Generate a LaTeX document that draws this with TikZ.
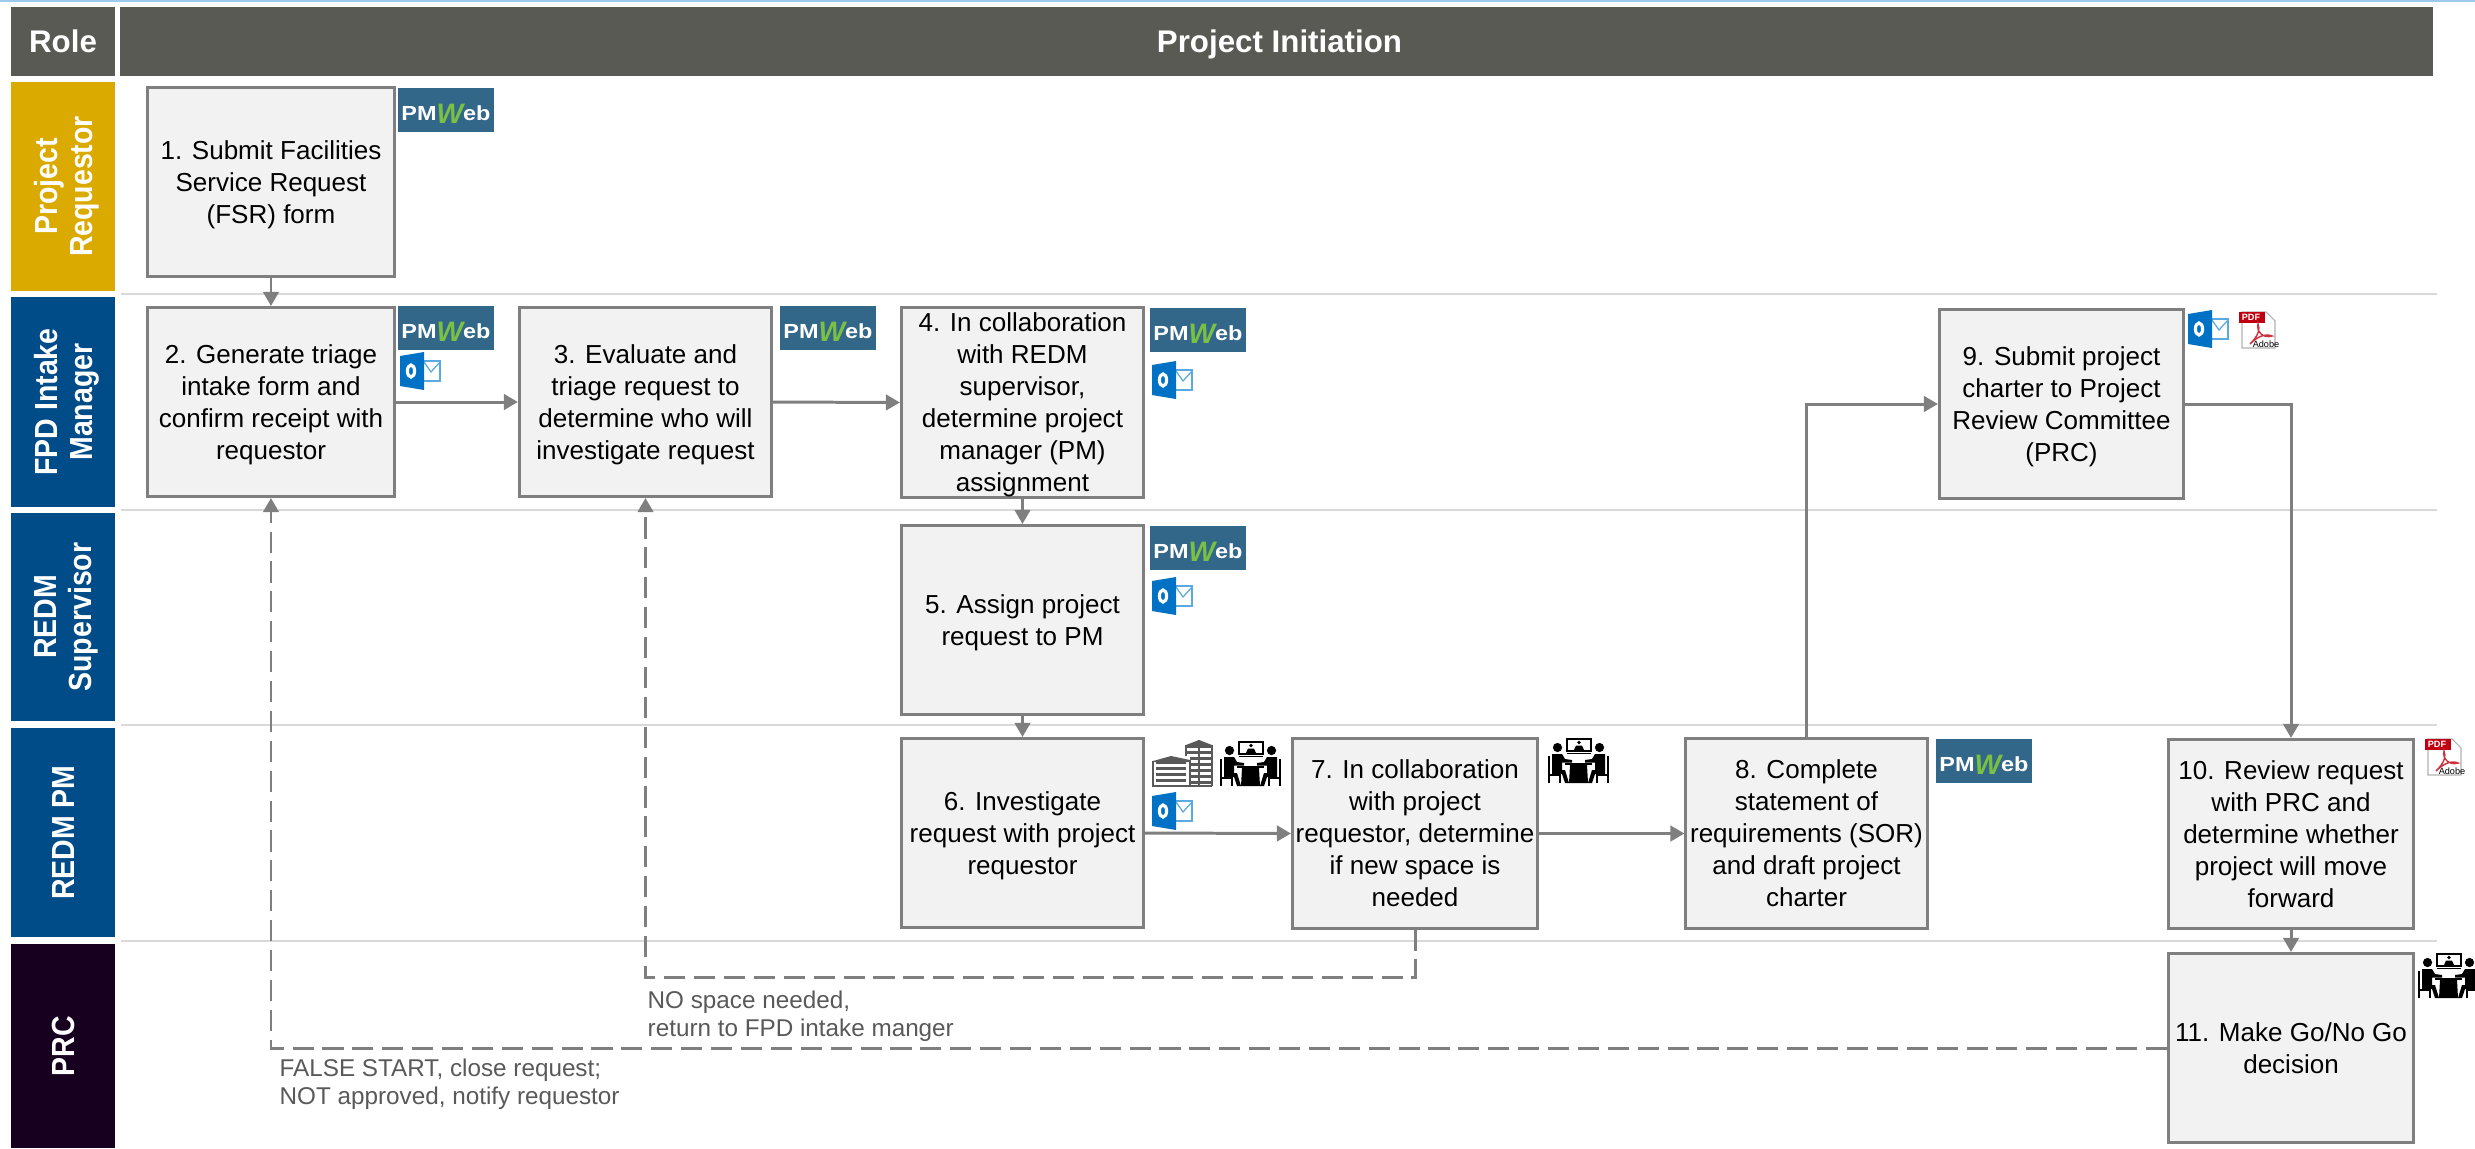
\documentclass[tikz,border=0pt]{standalone}
\usepackage{fontspec}
\setmainfont{Liberation Sans}
\newfontfamily\lanefont[FakeStretch=0.89]{Liberation Sans}
\newfontfamily\logofont[FakeStretch=1.15]{Liberation Sans}
\usepackage{xcolor}
\usepackage{tikz}
\usetikzlibrary{arrows.meta}
\definecolor{headgray}{HTML}{595A53}
\definecolor{reqgold}{HTML}{DAAA00}
\definecolor{fpdblue}{HTML}{004C88}
\definecolor{prcdark}{HTML}{17001F}
\definecolor{boxfill}{HTML}{F2F2F2}
\definecolor{boxline}{HTML}{7F7F7F}
\definecolor{sepline}{HTML}{D9D9D9}
\definecolor{notegray}{HTML}{595959}
\definecolor{pmwebbg}{HTML}{33678A}
\definecolor{pmgreen}{HTML}{7AC143}
\definecolor{olblue}{HTML}{0072C6}
\definecolor{olpale}{HTML}{5AA9E0}
\definecolor{pdfred}{HTML}{C00010}
\tikzset{
  head/.style={fill=headgray, text=white, inner sep=0pt, text depth=0pt, font=\fontsize{8.9}{10}\selectfont\bfseries, minimum height=0.69cm},
  lane/.style={rotate=90, text=white, inner sep=0pt, text depth=0pt, align=center, minimum height=1.04cm, font=\lanefont\fontsize{9.1}{10}\selectfont\bfseries},
  task/.style={draw=boxline, fill=boxfill, line width=0.85pt, inner sep=0pt, text depth=0pt, align=center, minimum width=2.46cm, minimum height=1.89cm, font=\fontsize{7.4}{9.1}\selectfont},
  flow/.style={draw=boxline, line width=0.85pt, -{Triangle[length=4pt,width=4.4pt]}},
  back/.style={flow, dash pattern=on 6pt off 2.5pt},
  note/.style={text=notegray, inner sep=0pt, align=left, anchor=west, font=\fontsize{6.9}{8}\selectfont},
  sep/.style={draw=sepline, line width=0.7pt},
  pmweb/.pic={
    \fill[pmwebbg] (0,0) rectangle (96,44);
    \node[text=white, inner sep=0pt, anchor=base, font=\logofont\fontsize{5.8}{7}\selectfont\bfseries] (-mark) at (48,32)
      {PM\raisebox{-1pt}{\color{pmgreen}\normalfont\fontsize{8}{7}\selectfont\bfseries\itshape W}eb};
  },
  outlook/.pic={
    \draw[olpale, fill=white, line width=0.35pt] (22,9) rectangle (40,29);
    \draw[olpale, line width=0.35pt] (24,10) -- (31,20) -- (40,10);
    \fill[olblue] (0,4) -- (24,0) -- (24,38) -- (0,34) -- cycle;
    \draw[white, line width=0.9pt] (11,19) ellipse (3.6 and 6);
  },
  pdficon/.pic={
    \draw[black!30, fill=white, line width=0.3pt] (3,1) -- (27,1) -- (36,10) -- (36,37) -- (3,37) -- cycle;
    \fill[pdfred] (0,1) rectangle (26,12);
    \node[text=white, inner sep=0pt, font=\fontsize{2.6}{3}\selectfont\bfseries] (-tag) at (12,6.5) {PDF};
    \draw[pdfred!80, line width=0.4pt] (11,33) .. controls (20,24) and (21,18) .. (19,13) .. controls (17,20) and (24,28) .. (33,25) .. controls (26,22) and (18,26) .. cycle;
    \node[text=black, inner sep=0pt, font=\fontsize{2.6}{3}\selectfont] (-adobe) at (27,33) {Adobe};
  },
  meeting/.pic={
    \draw[black, fill=white, line width=0.45pt] (19,1) rectangle (43,13);
    \fill[black] (31,4.5) circle (1.8);
    \fill[black] (26,12) -- (28,7.5) -- (34,7.5) -- (36,12) -- cycle;
    \fill[black] (19,15) rectangle (43,16);
    \fill[black] (17,25) rectangle (44,27);
    \fill[black] (22,27) -- (39,27) -- (40,45) -- (21,45) -- cycle;
    \fill[black] (9.5,9.5) circle (4.6);
    \fill[black] (4,16) -- (14,16) -- (17,21) -- (24,22) -- (24,24.5) -- (14,24.5) -- (14,32) -- (17,32) -- (21,45) -- (17,45) -- (14,36) -- (4,36) -- cycle;
    \draw[black, line width=0.5pt] (1,18) -- (1,45) (1,37) -- (12,37) -- (12,45);
    \begin{scope}[shift={(61,0)}, xscale=-1]
      \fill[black] (9.5,9.5) circle (4.6);
      \fill[black] (4,16) -- (14,16) -- (17,21) -- (24,22) -- (24,24.5) -- (14,24.5) -- (14,32) -- (17,32) -- (21,45) -- (17,45) -- (14,36) -- (4,36) -- cycle;
      \draw[black, line width=0.5pt] (1,18) -- (1,45) (1,37) -- (12,37) -- (12,45);
    \end{scope}
  },
  offices/.pic={
    \draw[notegray, line width=0.26cm, dash pattern=on 0.9pt off 0.8pt] (47,5) -- (47,46);
    \fill[notegray] (34,5) -- (47,0) -- (60,5) -- (60,6) -- (34,6) -- cycle;
    \draw[notegray, line width=0.4pt] (47,0) -- (47,46) (34,5) -- (34,46) (60,5) -- (60,46);
    \fill[white] (0,16) rectangle (38,46);
    \draw[notegray, line width=0.3cm, dash pattern=on 0.9pt off 0.8pt] (19,21) -- (19,46);
    \fill[notegray] (1,21) -- (19,16) -- (38,20) -- (38,22) -- (1,22) -- cycle;
    \draw[notegray, line width=0.4pt] (1,21) -- (1,46) (38,20) -- (38,46) (0,46) -- (60,46);
  },
}

\begin{document}
\begin{tikzpicture}[x=0.01cm,y=-0.01cm]
  \useasboundingbox (0,0) rectangle (2475,1148);
  \draw[draw=olpale!60, line width=0.4pt] (0,1) -- (2475,1);

  % header and lanes
  \node[head, minimum width=1.04cm] (role) at (63,41.5) {Role};
  \node[head, minimum width=23.11cm] (phase) at (1276.5,41.5) {\hspace*{1.7pt}Project Initiation};
  \node[lane, fill=reqgold, minimum width=2.09cm] (lreq) at (63,186.5) {Project\\Requestor};
  \node[lane, fill=fpdblue, minimum width=2.10cm] (lfpd) at (63,402) {FPD Intake\\Manager};
  \node[lane, fill=fpdblue, minimum width=2.08cm] (lsup) at (63,617) {REDM\\Supervisor};
  \node[lane, fill=fpdblue, minimum width=2.09cm] (lpm) at (63,832.5) {REDM PM};
  \node[lane, fill=prcdark, minimum width=2.04cm] (lprc) at (63,1046) {PRC};
  \draw[sep] (121,294) -- (2437,294);
  \draw[sep] (121,510) -- (2437,510);
  \draw[sep] (121,725) -- (2437,725);
  \draw[sep] (121,941) -- (2437,941);

  % tasks
  \node[task] (b1) at (271,182) {1. Submit Facilities\\Service Request\\(FSR) form};
  \node[task] (b2) at (271,402) {2. Generate triage\\intake form and\\confirm receipt with\\requestor};
  \node[task, minimum width=2.52cm] (b3) at (645.5,402) {3. Evaluate and\\triage request to\\determine who will\\investigate request};
  \node[task, minimum width=2.42cm] (b4) at (1022.5,402.5) {4. In collaboration\\with REDM\\supervisor,\\determine project\\manager (PM)\\assignment};
  \node[task, minimum width=2.42cm] (b5) at (1022.5,620) {5. Assign project\\request to PM};
  \node[task, minimum width=2.42cm] (b6) at (1022.5,833) {6. Investigate\\request with project\\requestor};
  \node[task, minimum width=2.45cm] (b7) at (1415,833.5) {7. In collaboration\\with project\\requestor, determine\\if new space is\\needed};
  \node[task, minimum width=2.41cm] (b8) at (1806.5,833.5) {8. Complete\\statement of\\requirements (SOR)\\and draft project\\charter};
  \node[task, minimum width=2.44cm] (b9) at (2061.5,404) {9. Submit project\\charter to Project\\Review Committee\\(PRC)};
  \node[task, minimum width=2.45cm] (b10) at (2291,834) {10. Review request\\with PRC and\\determine whether\\project will move\\forward};
  \node[task, minimum width=2.45cm] (b11) at (2291,1048) {11. Make Go/No Go\\decision};

  % icons
  \pic (pm1) at (398,88) {pmweb};
  \pic (pm2) at (398,306) {pmweb};
  \pic (ol2) at (400,352) {outlook};
  \pic (pm3) at (780,306) {pmweb};
  \pic (pm4) at (1150,308) {pmweb};
  \pic (ol4) at (1152,361) {outlook};
  \pic (pm5) at (1150,526) {pmweb};
  \pic (ol5) at (1152,577) {outlook};
  \pic (of6) at (1152,740) {offices};
  \pic (mt6) at (1220,741) {meeting};
  \pic (ol6) at (1152,792) {outlook};
  \pic (mt7) at (1548,738) {meeting};
  \pic (pm8) at (1936,739) {pmweb};
  \pic (ol9) at (2188,310) {outlook};
  \pic (pd9) at (2239,311) {pdficon};
  \pic (pd10) at (2425,738) {pdficon};
  \pic (mt11) at (2418,953) {meeting};

  % connectors
  \coordinate (nospace) at (0,977);
  \draw[flow] (b1.south) -- (b2.north);
  \draw[flow] (b2.east) -- (b3.west);
  \draw[flow] (b3.east) -- (b4.west);
  \draw[flow] (b4.south) -- (b5.north);
  \draw[flow] (b5.south) -- (b6.north);
  \draw[flow] (b6.east) -- (b7.west);
  \draw[flow] (b7.east) -- (b8.west);
  \draw[flow] (b8.north) |- (b9.west);
  \draw[flow] (b9.east) -| (b10.north);
  \draw[flow] (b10.south) -- (b11.north);
  \draw[back] (b7.south) |- (nospace -| b3.south) -- (b3.south);
  \draw[back] (b11.west) -| (b2.south);

  % notes
  \node[note] (nspace) at (647,1016) {NO space needed,\\return to FPD intake manger};
  \node[note] (nfalse) at (279,1084) {FALSE START, close request;\\NOT approved, notify requestor};
\end{tikzpicture}
\end{document}
